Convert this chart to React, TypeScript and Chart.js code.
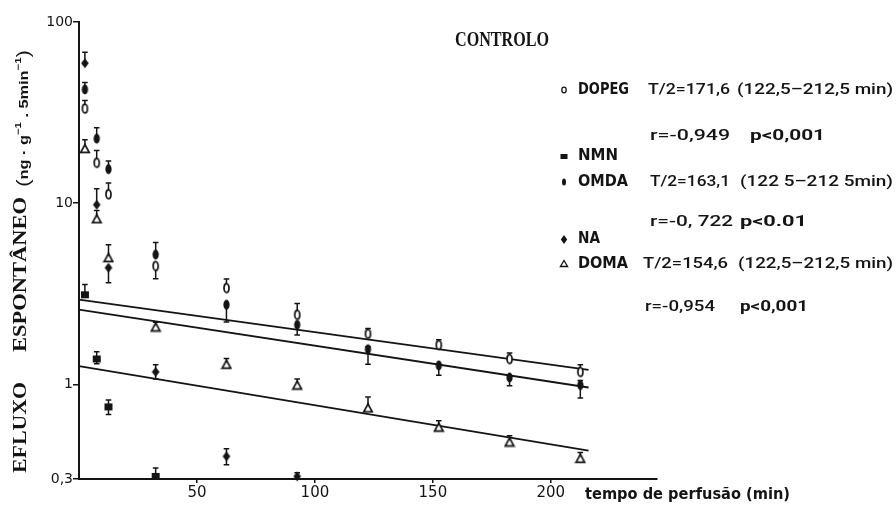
import React, { useEffect, useRef } from "react";
import { Chart, registerables } from "chart.js";
Chart.register(...registerables);

// ---- data ----
const times = [2.5, 7.5, 12.5, 32.5, 62.5, 92.5, 122.5, 152.5, 182.5, 212.5];
const dopegValues = [33.3, 16.7, 11.2, 4.5, 3.4, 2.42, 1.9, 1.65, 1.38, 1.17];
const dopegErrUp = [3.6, 2.8, 1.7, 0, 0.41, 0.37, 0.13, 0.11, 0.11, 0.11];
const dopegErrDown = [0, 0, 0, 0.68, 0, 0, 0, 0, 0, 0];
const omdaValues = [42.4, 22.7, 15.4, 5.2, 2.75, 2.13, 1.56, 1.27, 1.09, 0.99];
const omdaErrUp = [4.0, 3.4, 1.7, 0.86, 0, 0, 0.05, 0, 0, 0.06];
const omdaErrDown = [0, 0, 0, 0, 0.54, 0.26, 0.27, 0.15, 0.11, 0.15];
const naTimes = [2.5, 7.5, 12.5, 32.5, 62.5, 92.5];
const naValues = [59.2, 9.8, 4.4, 1.17, 0.4, 0.31];
const naErrUp = [8.9, 2.2, 0, 0.11, 0.04, 0.015];
const naErrDown = [0, 0, 0.77, 0.1, 0.04, 0];
const domaValues = [20, 8.2, 5.0, 2.07, 1.29, 0.99, 0.74, 0.58, 0.48, 0.39];
const domaErrUp = [2.4, 0.9, 0.9, 0.13, 0.1, 0.08, 0.11, 0.05, 0.04, 0.03];
const nmnTimes = [2.5, 7.5, 12.5, 32.5];
const nmnValues = [3.12, 1.38, 0.75, 0.31];
const nmnErrUp = [0.43, 0.13, 0.07, 0.035];
const nmnErrDown = [0, 0.08, 0.07, 0];

const fitTimes = [0, 216];
const dopegFit = [2.93, 1.2];
const omdaFit = [2.58, 0.96];
const domaFit = [1.26, 0.43];

const xTicks = [50, 100, 150, 200];
const yTicks = [0.3, 1, 10, 100];

const INK = "#141414";

function mk(w: number, h: number, draw: (g: CanvasRenderingContext2D) => void) {
  const c = document.createElement("canvas");
  c.width = w;
  c.height = h;
  const g = c.getContext("2d")!;
  draw(g);
  return c;
}

function makeMarkers() {
  const openEllipse = mk(9, 13, (g) => {
    g.beginPath();
    g.ellipse(4.5, 6.5, 2.5, 4.4, 0, 0, Math.PI * 2);
    g.fillStyle = "#fff";
    g.fill();
    g.lineWidth = 1.7;
    g.strokeStyle = INK;
    g.stroke();
  });
  const filledEllipse = mk(9, 13, (g) => {
    g.beginPath();
    g.ellipse(4.5, 6.5, 3.1, 5, 0, 0, Math.PI * 2);
    g.fillStyle = INK;
    g.fill();
  });
  const diamond = mk(10, 12, (g) => {
    g.beginPath();
    g.moveTo(5, 1);
    g.lineTo(8.8, 6);
    g.lineTo(5, 11);
    g.lineTo(1.2, 6);
    g.closePath();
    g.fillStyle = INK;
    g.fill();
  });
  const square = mk(10, 9, (g) => {
    g.fillStyle = INK;
    g.fillRect(1, 1, 8, 7);
  });
  const triangle = mk(12, 11, (g) => {
    g.beginPath();
    g.moveTo(6, 1.5);
    g.lineTo(10.3, 9.3);
    g.lineTo(1.7, 9.3);
    g.closePath();
    g.fillStyle = "#fff";
    g.fill();
    g.lineWidth = 1.7;
    g.strokeStyle = INK;
    g.stroke();
  });
  return { openEllipse, filledEllipse, diamond, square, triangle };
}

function fit(ctx: CanvasRenderingContext2D, text: string, x: number, y: number, w: number, font: string) {
  ctx.save();
  ctx.font = font;
  ctx.textAlign = "left";
  ctx.textBaseline = "middle";
  const m = ctx.measureText(text).width;
  ctx.translate(x, y);
  ctx.scale(w / m, 1);
  ctx.fillText(text, 0, 0);
  ctx.restore();
}

const errorBars = {
  id: "errorBars",
  beforeDatasetsDraw(chart: any) {
    const ctx = chart.ctx;
    const ys = chart.scales.y;
    chart.data.datasets.forEach((ds: any, i: number) => {
      if (!ds.errUp && !ds.errDown) return;
      const meta = chart.getDatasetMeta(i);
      meta.data.forEach((pt: any, j: number) => {
        const v = ds.data[j].y;
        const up = ds.errUp ? ds.errUp[j] : 0;
        const dn = ds.errDown ? ds.errDown[j] : 0;
        ctx.save();
        ctx.strokeStyle = INK;
        ctx.lineWidth = 1.5;
        const draw = (val: number) => {
          const yy = ys.getPixelForValue(val);
          ctx.beginPath();
          ctx.moveTo(pt.x, pt.y);
          ctx.lineTo(pt.x, yy);
          ctx.moveTo(pt.x - 2.8, yy);
          ctx.lineTo(pt.x + 2.8, yy);
          ctx.stroke();
        };
        if (up > 0) draw(v + up);
        if (dn > 0) draw(v - dn);
        ctx.restore();
      });
    });
  },
};

const texts = {
  id: "texts",
  afterDraw(chart: any) {
    const ctx: CanvasRenderingContext2D = chart.ctx;
    ctx.save();
    ctx.fillStyle = INK;
    ctx.strokeStyle = INK;
    // Title
    fit(ctx, "CONTROLO", 455, 41, 94, 'bold 21px "Liberation Serif"');

    const nameF = 'bold 15px "DejaVu Sans Condensed", "DejaVu Sans"';
    const txtF = '500 15px Roboto, "Liberation Sans", "DejaVu Sans"';
    const pF = 'bold 15px Roboto, "Liberation Sans", "DejaVu Sans"';

    // legend markers
    const lx = 564;
    ctx.lineWidth = 1.3;
    ctx.beginPath();
    ctx.ellipse(lx, 90, 2.2, 2.8, 0, 0, Math.PI * 2);
    ctx.stroke();
    ctx.fillRect(lx - 3.5, 154, 7, 5);
    ctx.beginPath();
    ctx.ellipse(lx, 182, 2, 3.6, 0, 0, Math.PI * 2);
    ctx.fill();
    ctx.beginPath();
    ctx.moveTo(lx, 235);
    ctx.lineTo(lx + 3.2, 239.5);
    ctx.lineTo(lx, 244);
    ctx.lineTo(lx - 3.2, 239.5);
    ctx.closePath();
    ctx.fill();
    ctx.beginPath();
    ctx.moveTo(lx, 260.5);
    ctx.lineTo(lx + 3.6, 266.5);
    ctx.lineTo(lx - 3.6, 266.5);
    ctx.closePath();
    ctx.stroke();

    fit(ctx, "DOPEG", 578, 90.5, 51, nameF);
    fit(ctx, "T/2=171,6", 648, 90.5, 82, txtF);
    fit(ctx, "(122,5\u2013212,5 min)", 737, 90.5, 156, txtF);
    fit(ctx, "r=-0,949", 650, 136, 80, txtF);
    fit(ctx, "p<0,001", 750, 136, 75, pF);
    fit(ctx, "NMN", 578, 156, 40, nameF);
    fit(ctx, "OMDA", 578, 182, 50, nameF);
    fit(ctx, "T/2=163,1", 650, 182, 80, txtF);
    fit(ctx, "(122 5\u2013212 5min)", 740, 182, 153, txtF);
    fit(ctx, "r=-0, 722", 650, 222, 83, txtF);
    fit(ctx, "p<0.01", 740, 222, 67, pF);
    fit(ctx, "NA", 578, 239, 22, nameF);
    fit(ctx, "DOMA", 578, 264, 50, nameF);
    fit(ctx, "T/2=154,6", 643, 264, 85, txtF);
    fit(ctx, "(122,5\u2013212,5 min)", 738, 264, 155, txtF);
    fit(ctx, "r=-0,954", 645, 307, 70, txtF);
    fit(ctx, "p<0,001", 740, 307, 68, pF);

    // x-axis title
    fit(ctx, "tempo de perfusão (min)", 585, 495, 205, nameF);

    // y-axis title (rotated)
    const rot = (cx: number, yBottom: number, yTop: number, draw: (w: number) => void) => {
      ctx.save();
      ctx.translate(cx, yBottom);
      ctx.rotate(-Math.PI / 2);
      draw(yBottom - yTop);
      ctx.restore();
    };
    const serifB = 'bold 19px "Liberation Serif"';
    rot(21.5, 473, 382, (w) => fit(ctx, "EFLUXO", 0, 0, w, serifB));
    rot(21.5, 352, 197, (w) => fit(ctx, "ESPONTÂNEO", 0, 0, w, serifB));
    rot(24, 187, 50, (w) => {
      const pieces = [
        { t: "(", f: '18px "Liberation Sans"', dy: 0 },
        { t: "ng \u00b7 g", f: 'bold 13px "Liberation Sans"', dy: 0 },
        { t: "\u22121", f: 'bold 9px "Liberation Sans"', dy: -5 },
        { t: " . 5min", f: 'bold 13px "Liberation Sans"', dy: 0 },
        { t: "\u22121", f: 'bold 9px "Liberation Sans"', dy: -5 },
        { t: ")", f: '18px "Liberation Sans"', dy: 0 },
      ];
      let total = 0;
      const widths = pieces.map((p) => {
        ctx.font = p.f;
        const m = ctx.measureText(p.t).width;
        total += m;
        return m;
      });
      const s = w / total;
      ctx.scale(s, 1);
      ctx.textBaseline = "middle";
      ctx.textAlign = "left";
      let x = 0;
      pieces.forEach((p, i) => {
        ctx.font = p.f;
        ctx.fillText(p.t, x, p.dy);
        x += widths[i];
      });
    });
    ctx.restore();
  },
};

export default function App() {
  const ref = useRef<HTMLCanvasElement | null>(null);
  useEffect(() => {
    if (!ref.current) return;
    const mks = makeMarkers();
    const pts = (xs: number[], ys: number[]) => xs.map((x, i) => ({ x, y: ys[i] }));
    const lineDs = (ys: number[]) => ({
      type: "line" as const,
      data: pts(fitTimes, ys),
      borderColor: INK,
      borderWidth: 1.8,
      pointRadius: 0,
      fill: false,
      clip: false as any,
      order: 5,
    });
    const scatterDs = (xs: number[], ys: number[], style: any, up?: number[], dn?: number[]) => ({
      type: "scatter" as const,
      data: pts(xs, ys),
      pointStyle: style,
      pointRadius: 5,
      clip: false as any,
      errUp: up,
      errDown: dn,
      order: 1,
    });
    const chart = new Chart(ref.current, {
      type: "scatter",
      data: {
        datasets: [
          lineDs(dopegFit),
          lineDs(omdaFit),
          lineDs(domaFit),
          scatterDs(times, dopegValues, mks.openEllipse, dopegErrUp, dopegErrDown),
          scatterDs(times, omdaValues, mks.filledEllipse, omdaErrUp, omdaErrDown),
          scatterDs(naTimes, naValues, mks.diamond, naErrUp, naErrDown),
          scatterDs(times, domaValues, mks.triangle, domaErrUp),
          scatterDs(nmnTimes, nmnValues, mks.square, nmnErrUp, nmnErrDown),
        ] as any,
      },
      options: {
        animation: false,
        responsive: false,
        devicePixelRatio: 1,
        layout: { padding: { top: 22, right: 239, left: 0, bottom: 0 } },
        plugins: { legend: { display: false }, tooltip: { enabled: false } },
        scales: {
          x: {
            type: "linear",
            min: 0,
            max: 245,
            afterBuildTicks: (s: any) => {
              s.ticks = xTicks.map((v) => ({ value: v }));
            },
            afterFit: (s: any) => {
              s.height = 26;
            },
            grid: { display: true, drawOnChartArea: false, drawTicks: true, tickLength: 4, color: INK, lineWidth: 1.5 },
            border: { display: true, color: INK, width: 2 },
            ticks: {
              color: INK,
              font: { family: "DejaVu Sans", size: 15 },
              padding: 1,
              maxRotation: 0,
              autoSkip: false,
              callback: (v: any) => String(v),
            },
          },
          y: {
            type: "logarithmic",
            min: 0.3,
            max: 100,
            afterBuildTicks: (s: any) => {
              s.ticks = yTicks.map((v) => ({ value: v }));
            },
            afterFit: (s: any) => {
              s.width = 79;
            },
            grid: { display: true, drawOnChartArea: false, drawTicks: true, tickLength: 6, color: INK, lineWidth: 1.5 },
            border: { display: true, color: INK, width: 2 },
            ticks: {
              color: INK,
              font: { family: "DejaVu Sans", size: 14 },
              padding: 0,
              autoSkip: false,
              callback: (v: any) => String(v).replace(".", ","),
            },
          },
        },
      },
      plugins: [errorBars, texts],
    } as any);
    return () => chart.destroy();
  }, []);
  return (
    <div style={{ position: "fixed", left: 0, top: 0, width: 896, height: 505, background: "#fff" }}>
      <canvas ref={ref} width={896} height={505} style={{ display: "block" }} />
    </div>
  );
}
